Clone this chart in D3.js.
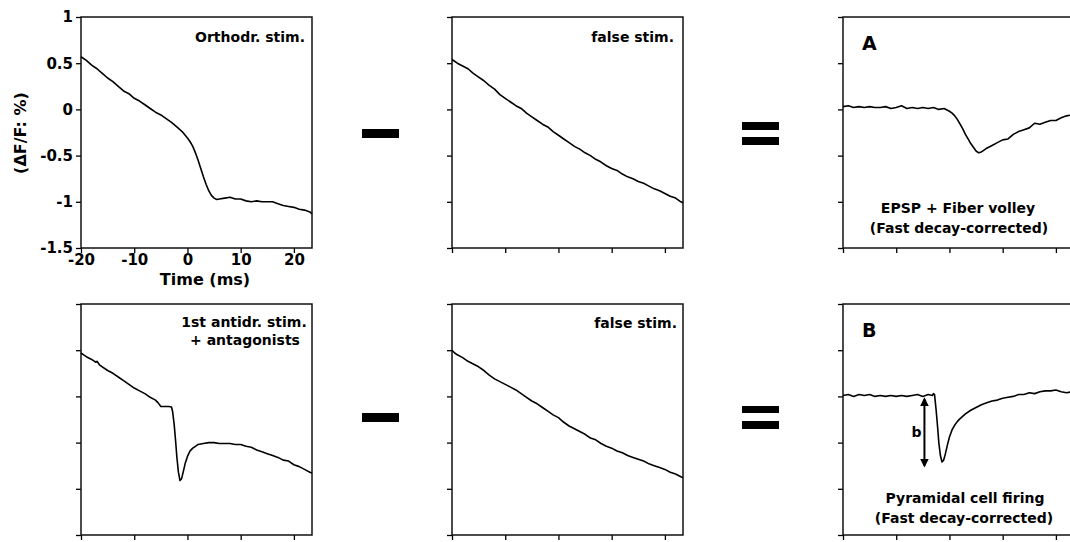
<!DOCTYPE html>
<html>
<head>
<meta charset="utf-8">
<script src="https://cdn.jsdelivr.net/npm/d3@7"></script>
<style>
  body { margin: 0; background: #fff; }
  text { font-family: "DejaVu Sans", sans-serif; font-weight: bold; fill: #000; }
</style>
</head>
<body>
<div id="plot"></div>
<script>
// axis ticks
const xTicks = [-20, -10, 0, 10, 20];
const yTicks = [-1.5, -1, -0.5, 0, 0.5, 1];
const xTickLabels = ["-20", "-10", "0", "10", "20"];
const yTickLabels = ["-1.5", "-1", "-0.5", "0", "0.5", "1"];

// traces: time (ms) and dF/F (%)
const orthoT = [-20,-19,-18,-17,-16,-15,-14,-13,-12,-11,-10,-9,-8,-7,-6,-5,-4,-3,-2,-1,0,0.5,1,1.5,2,2.5,3,3.5,4,4.5,5,5.5,6,7,8,9,10,11,12,13,14,15,16,17,18,19,20,21,22,23,23.4];
const orthoV = [0.57,0.53,0.48,0.44,0.39,0.34,0.30,0.25,0.20,0.17,0.12,0.09,0.05,0.01,-0.03,-0.06,-0.10,-0.14,-0.19,-0.24,-0.31,-0.35,-0.40,-0.47,-0.55,-0.64,-0.73,-0.81,-0.88,-0.93,-0.96,-0.975,-0.97,-0.96,-0.95,-0.97,-0.97,-0.99,-1.00,-0.99,-1.00,-1.00,-1.00,-1.02,-1.04,-1.05,-1.06,-1.08,-1.09,-1.11,-1.13];

const false1T = [-20,-19,-18,-17,-16,-15,-14,-13,-12,-11,-10,-9,-8,-7,-6,-5,-4,-3,-2,-1,0,1,2,3,4,5,6,7,8,9,10,11,12,13,14,15,16,17,18,19,20,21,22,23,23.4];
const false1V = [0.54,0.50,0.47,0.44,0.39,0.35,0.31,0.26,0.22,0.16,0.12,0.08,0.04,0.01,-0.04,-0.08,-0.12,-0.16,-0.19,-0.24,-0.28,-0.32,-0.36,-0.40,-0.43,-0.47,-0.50,-0.54,-0.57,-0.61,-0.64,-0.66,-0.70,-0.73,-0.75,-0.78,-0.80,-0.83,-0.86,-0.88,-0.91,-0.94,-0.96,-1.00,-1.01];

const epspT = [-20,-19,-18,-17,-16,-15,-14,-13,-12,-11,-10,-9,-8,-7,-6,-5,-4,-3,-2,-1,0,0.5,1,1.5,2,2.5,3,3.5,4,4.5,5,5.5,6,6.5,7,8,9,10,11,12,13,14,15,16,17,18,19,20,21,22,23,23.4];
const epspV = [0.03,0.04,0.02,0.03,0.02,0.03,0.02,0.02,0.03,0.01,0.02,0.04,0.01,0.02,0.01,0.02,0.01,0.02,0.00,0.01,-0.02,-0.04,-0.07,-0.11,-0.16,-0.21,-0.27,-0.32,-0.37,-0.41,-0.45,-0.47,-0.46,-0.44,-0.42,-0.39,-0.36,-0.33,-0.32,-0.27,-0.24,-0.22,-0.20,-0.15,-0.16,-0.14,-0.12,-0.12,-0.09,-0.07,-0.06,-0.05];

const antiT = [-20,-19.5,-19,-18,-17.2,-17,-16.5,-16,-15,-14,-13,-12,-11,-10,-9,-8,-7,-6,-5.5,-5,-4.5,-4,-3.5,-3,-2.8,-2.5,-2.2,-2,-1.7,-1.4,-1.1,-0.8,-0.4,0,0.5,1,1.5,2,3,4,5,6,7,8,9,10,11,12,13,14,15,16,17,18,19,20,21,22,23,23.4];
const antiV = [0.47,0.45,0.43,0.40,0.37,0.38,0.34,0.32,0.28,0.25,0.21,0.17,0.13,0.09,0.06,0.03,-0.01,-0.04,-0.07,-0.11,-0.11,-0.11,-0.11,-0.115,-0.16,-0.30,-0.50,-0.65,-0.82,-0.91,-0.89,-0.82,-0.72,-0.65,-0.59,-0.56,-0.54,-0.52,-0.51,-0.50,-0.50,-0.51,-0.51,-0.51,-0.52,-0.52,-0.54,-0.55,-0.58,-0.60,-0.62,-0.64,-0.66,-0.69,-0.70,-0.74,-0.76,-0.79,-0.82,-0.83];

const false2T = [-20,-19.5,-19,-18,-17,-16,-15,-14,-13,-12,-11,-10,-9,-8,-7,-6,-5,-4,-3,-2,-1,0,1,2,3,4,5,6,7,8,9,10,11,12,13,14,15,16,17,18,19,20,21,22,23,23.4];
const false2V = [0.50,0.47,0.45,0.42,0.38,0.35,0.32,0.28,0.23,0.19,0.16,0.13,0.10,0.07,0.03,-0.01,-0.05,-0.08,-0.12,-0.16,-0.20,-0.23,-0.28,-0.32,-0.35,-0.38,-0.41,-0.45,-0.47,-0.51,-0.54,-0.56,-0.59,-0.61,-0.64,-0.66,-0.68,-0.70,-0.73,-0.75,-0.77,-0.79,-0.82,-0.84,-0.87,-0.88];

const pyrT = [-20,-19,-18,-17,-16,-15,-14,-13,-12,-11,-10,-9,-8,-7,-6,-5,-4,-3.2,-3.0,-2.8,-2.5,-2.2,-2,-1.7,-1.4,-1.1,-0.8,-0.4,0,0.5,1,1.5,2,3,4,5,6,7,8,9,10,11,12,13,14,15,16,17,18,19,20,21,22,23,23.4];
const pyrV = [0.01,0.02,0.00,0.02,0.01,0.02,0.00,0.01,0.00,0.01,0.00,0.01,0.00,0.01,0.02,0.00,0.02,0.01,0.03,0.02,-0.15,-0.35,-0.50,-0.64,-0.71,-0.69,-0.63,-0.53,-0.44,-0.36,-0.31,-0.27,-0.24,-0.19,-0.15,-0.12,-0.09,-0.07,-0.05,-0.04,-0.02,-0.01,0.00,0.02,0.02,0.04,0.03,0.05,0.06,0.06,0.07,0.05,0.04,0.05,0.05];

// amplitude marker "b" in panel B
const arrowT = -4.7, arrowTop = -0.03, arrowBottom = -0.75;

window.addEventListener("load", main);

function main(){
  const width = 1070, height = 542;
  const pw = 231, ph = 231;
  const colX = [81, 452, 843], rowY = [17, 304];

  let svg = d3.select("#plot").append("svg")
    .attr("width", width)
    .attr("height", height);

  svg.append("defs").append("marker")
    .attr("id", "head")
    .attr("viewBox", "0 0 10 10")
    .attr("refX", 8).attr("refY", 5)
    .attr("markerWidth", 4.5).attr("markerHeight", 4.5)
    .attr("orient", "auto-start-reverse")
    .append("path").attr("d", "M0,0L10,5L0,10Z").attr("fill", "#000");

  let x = d3.scaleLinear().domain([-20, 23.4]).range([0, pw]);
  let y = d3.scaleLinear().domain([-1.5, 1]).range([ph, 0]);
  let line = d3.line().x(d => x(d[0])).y(d => y(d[1]));

  const panels = [
    {col: 0, row: 0, t: orthoT, v: orthoV, labels: true},
    {col: 1, row: 0, t: false1T, v: false1V},
    {col: 2, row: 0, t: epspT, v: epspV},
    {col: 0, row: 1, t: antiT, v: antiV},
    {col: 1, row: 1, t: false2T, v: false2V},
    {col: 2, row: 1, t: pyrT, v: pyrV}
  ];

  panels.forEach(p => {
    let g = svg.append("g")
      .attr("transform", `translate(${colX[p.col]},${rowY[p.row]})`);

    let yAxis = d3.axisLeft(y).tickValues(yTicks).tickSize(5).tickPadding(3)
      .tickFormat((d, i) => p.labels ? yTickLabels[i] : "");
    let xAxis = d3.axisBottom(x).tickValues(xTicks).tickSize(5).tickPadding(1)
      .tickFormat((d, i) => p.labels ? xTickLabels[i] : "");

    g.append("g").call(yAxis)
      .call(a => a.select(".domain").remove())
      .call(a => a.selectAll("line").attr("stroke-width", 1.3))
      .selectAll("text").style("font-size", "15px").style("font-family", "DejaVu Sans").style("font-weight", "bold");
    g.append("g").attr("transform", `translate(0,${ph})`).call(xAxis)
      .call(a => a.select(".domain").remove())
      .call(a => a.selectAll("line").attr("stroke-width", 1.3))
      .selectAll("text").style("font-size", "15px").style("font-family", "DejaVu Sans").style("font-weight", "bold");

    g.append("rect")
      .attr("width", pw).attr("height", ph)
      .attr("fill", "none").attr("stroke", "#111").attr("stroke-width", 1.5);

    g.append("path")
      .datum(d3.zip(p.t, p.v))
      .attr("d", line)
      .attr("fill", "none")
      .attr("stroke", "#000")
      .attr("stroke-width", 1.6)
      .attr("stroke-linejoin", "round");
  });

  // panel texts
  const txt = (xp, yp, s, size, anchor) => svg.append("text")
    .attr("x", xp).attr("y", yp).attr("text-anchor", anchor || "middle")
    .style("font-size", size + "px").text(s);

  txt(305, 42, "Orthodr. stim.", 14, "end");
  txt(674, 42, "false stim.", 14, "end");
  txt(862, 50, "A", 19, "start");
  txt(958, 213, "EPSP + Fiber volley", 14);
  txt(959, 233, "(Fast decay-corrected)", 14);

  txt(244, 327, "1st antidr. stim.", 14);
  txt(245, 345, "+ antagonists", 14);
  txt(677, 328, "false stim.", 14, "end");
  txt(862, 337, "B", 19, "start");
  txt(965, 503, "Pyramidal cell firing", 14);
  txt(964, 523, "(Fast decay-corrected)", 14);

  txt(205, 285, "Time (ms)", 16);
  svg.append("text")
    .attr("transform", "translate(26,133) rotate(-90)")
    .attr("text-anchor", "middle")
    .style("font-size", "16px")
    .text("(ΔF/F: %)");

  // minus and equals signs
  const ops = [
    {x: 362, y: 129, h: 9}, {x: 362, y: 413, h: 9},
    {x: 742, y: 122, h: 8}, {x: 742, y: 137, h: 8},
    {x: 742, y: 406, h: 7}, {x: 742, y: 421, h: 8}
  ];
  svg.selectAll("rect.op").data(ops).join("rect")
    .attr("class", "op")
    .attr("x", d => d.x).attr("y", d => d.y)
    .attr("width", 37).attr("height", d => d.h)
    .attr("fill", "#000");

  // double arrow for amplitude b
  let gb = svg.append("g").attr("transform", `translate(${colX[2]},${rowY[1]})`);
  gb.append("line")
    .attr("x1", x(arrowT)).attr("x2", x(arrowT))
    .attr("y1", y(arrowTop)).attr("y2", y(arrowBottom))
    .attr("stroke", "#000").attr("stroke-width", 2)
    .attr("marker-start", "url(#head)").attr("marker-end", "url(#head)");
  gb.append("text")
    .attr("x", x(arrowT) - 8).attr("y", y((arrowTop + arrowBottom) / 2) + 5)
    .attr("text-anchor", "middle")
    .style("font-size", "14px").text("b");
}
</script>
</body>
</html>
